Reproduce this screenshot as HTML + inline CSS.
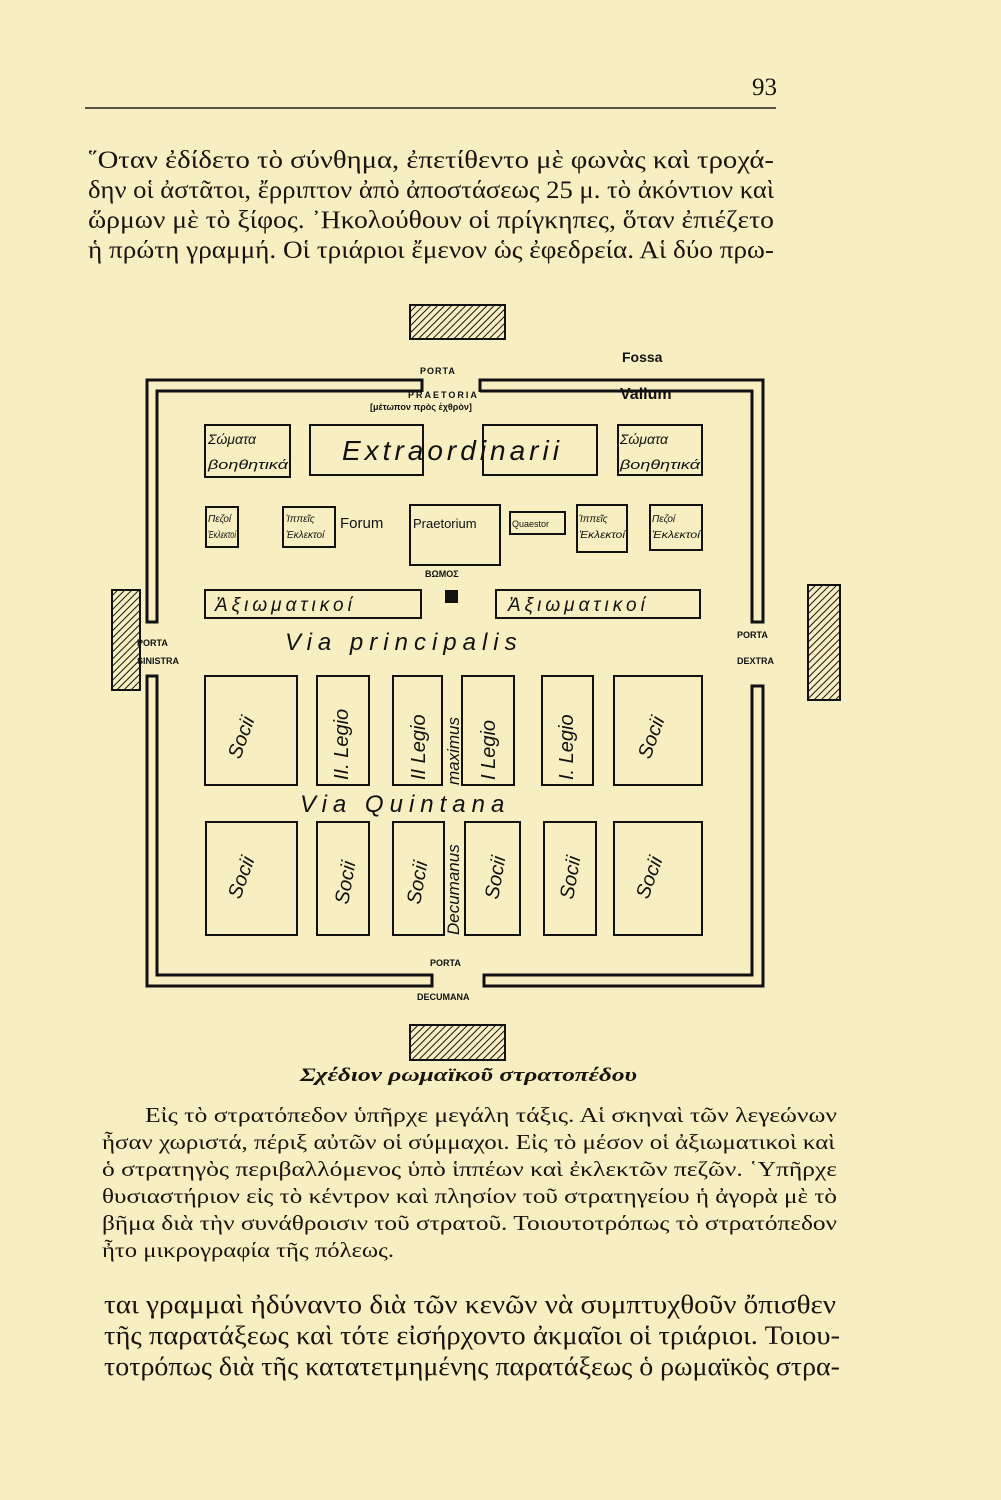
<!DOCTYPE html>
<html><head><meta charset="utf-8"><style>
html,body{margin:0;padding:0;background:#f7efc2;}
svg{display:block}
.t{font-family:"Liberation Serif","DejaVu Serif",serif;fill:#1a1410}
.h{font-family:"Liberation Sans",sans-serif;fill:#111;font-style:italic}
.s{font-family:"Liberation Sans",sans-serif;fill:#111;font-weight:bold}
</style></head><body>
<svg width="1001" height="1500" viewBox="0 0 1001 1500" xmlns="http://www.w3.org/2000/svg">
<defs><pattern id="hat" width="5" height="5" patternUnits="userSpaceOnUse" patternTransform="rotate(45)"><rect width="5" height="5" fill="#f7efc2"/><line x1="0" y1="0" x2="0" y2="5" stroke="#111" stroke-width="2"/></pattern></defs>
<rect width="1001" height="1500" fill="#f7efc2"/>
<text class="t" x="752" y="95" font-size="25">93</text>
<line x1="85" y1="108" x2="776" y2="108" stroke="#222" stroke-width="1.5"/>
<g class="t" font-size="25">
<text x="88" y="168" textLength="686" lengthAdjust="spacingAndGlyphs">῞Οταν ἐδίδετο τὸ σύνθημα, ἐπετίθεντο μὲ φωνὰς καὶ τροχά-</text>
<text x="88" y="198" textLength="686" lengthAdjust="spacingAndGlyphs">δην οἱ ἀστᾶτοι, ἔρριπτον ἀπὸ ἀποστάσεως 25 μ. τὸ ἀκόντιον καὶ</text>
<text x="88" y="228" textLength="686" lengthAdjust="spacingAndGlyphs">ὥρμων μὲ τὸ ξίφος. ᾿Ηκολούθουν οἱ πρίγκηπες, ὅταν ἐπιέζετο</text>
<text x="88" y="258" textLength="686" lengthAdjust="spacingAndGlyphs">ἡ πρώτη γραμμή. Οἱ τριάριοι ἔμενον ὡς ἐφεδρεία. Αἱ δύο πρω-</text>
</g>
<rect x="410" y="305" width="95" height="34" fill="url(#hat)" stroke="#111" stroke-width="2"/>
<rect x="112" y="590" width="28" height="100" fill="url(#hat)" stroke="#111" stroke-width="2"/>
<rect x="808" y="585" width="32" height="115" fill="url(#hat)" stroke="#111" stroke-width="2"/>
<rect x="410" y="1025" width="95" height="35" fill="url(#hat)" stroke="#111" stroke-width="2"/>
<g fill="none" stroke="#111" stroke-width="3">
<path d="M422,392 V380 H147 V622 H157 V391 H422"/>
<path d="M480,392 V380 H763 V622 H752 V391 H480"/>
<path d="M147,676 V986 H432 V975 H157 V676 Z"/>
<path d="M763,686 V986 H484 V975 H752 V686 Z"/>
</g>
<g class="s" font-size="9">
<text x="420" y="374" letter-spacing="1">PORTA</text>
<text x="408" y="398" letter-spacing="2">PRAETORIA</text>
<text x="137" y="646">PORTA</text>
<text x="137" y="664">SINISTRA</text>
<text x="737" y="638">PORTA</text>
<text x="737" y="664">DEXTRA</text>
<text x="430" y="966">PORTA</text>
<text x="417" y="1000">DECUMANA</text>
<text x="425" y="577">ΒΩΜΟΣ</text>
</g>
<text class="s" x="370" y="410" font-size="9">[μέτωπον πρὸς ἐχθρὸν]</text>
<text class="s" x="622" y="362" font-size="14">Fossa</text>
<text class="s" x="620" y="399" font-size="16">Vallum</text>
<g fill="none" stroke="#111" stroke-width="2">
<rect x="205" y="425" width="85" height="52"/>
<rect x="310" y="425" width="113" height="50"/>
<rect x="483" y="425" width="114" height="50"/>
<rect x="618" y="425" width="84" height="50"/>
<rect x="206" y="507" width="32" height="40"/>
<rect x="283" y="507" width="52" height="40"/>
<rect x="410" y="505" width="90" height="60"/>
<rect x="510" y="512" width="55" height="22"/>
<rect x="577" y="505" width="50" height="47"/>
<rect x="650" y="505" width="52" height="45"/>
<rect x="205" y="590" width="216" height="28"/>
<rect x="496" y="590" width="204" height="28"/>
<rect x="205" y="676" width="92" height="109"/>
<rect x="317" y="676" width="52" height="109"/>
<rect x="393" y="676" width="49" height="109"/>
<rect x="462" y="676" width="52" height="109"/>
<rect x="542" y="676" width="51" height="109"/>
<rect x="614" y="676" width="88" height="109"/>
<rect x="206" y="822" width="91" height="113"/>
<rect x="317" y="822" width="52" height="113"/>
<rect x="393" y="822" width="51" height="113"/>
<rect x="465" y="822" width="55" height="113"/>
<rect x="544" y="822" width="52" height="113"/>
<rect x="614" y="822" width="88" height="113"/>
</g>
<rect x="445" y="590" width="13" height="13" fill="#111"/>
<g class="h">
<text x="208" y="444" font-size="14">Σώματα</text>
<text x="208" y="469" font-size="13" textLength="80" lengthAdjust="spacingAndGlyphs">βοηθητικά</text>
<text x="620" y="444" font-size="14">Σώματα</text>
<text x="620" y="469" font-size="13" textLength="80" lengthAdjust="spacingAndGlyphs">βοηθητικά</text>
<text x="342" y="460" font-size="28" letter-spacing="4">Extraordinarii</text>
<text x="208" y="522" font-size="10">Πεζοί</text><text x="208" y="538" font-size="10" textLength="28" lengthAdjust="spacingAndGlyphs">Ἐκλεκτοί</text>
<text x="286" y="522" font-size="10">Ἱππεῖς</text><text x="286" y="538" font-size="10">Ἐκλεκτοί</text>
<text x="579" y="522" font-size="10">Ἱππεῖς</text><text x="579" y="538" font-size="10" textLength="46" lengthAdjust="spacingAndGlyphs">Ἐκλεκτοί</text>
<text x="652" y="522" font-size="10">Πεζοί</text><text x="652" y="538" font-size="10" textLength="48" lengthAdjust="spacingAndGlyphs">Ἐκλεκτοί</text>
<text x="340" y="528" font-size="15" font-style="normal">Forum</text>
<text x="413" y="528" font-size="13" font-style="normal">Praetorium</text>
<text x="512" y="527" font-size="9" font-style="normal">Quaestor</text>
<text x="215" y="611" font-size="19" letter-spacing="4">Ἀξιωματικοί</text>
<text x="508" y="611" font-size="19" letter-spacing="4">Ἀξιωματικοί</text>
<text x="285" y="650" font-size="24" letter-spacing="6">Via   principalis</text>
<text x="300" y="812" font-size="24" letter-spacing="6">Via  Quintana</text>
<g font-size="20">
<text transform="translate(240,760) rotate(-70)">Socii</text>
<text transform="translate(348,780) rotate(-90)">II. Legio</text>
<text transform="translate(425,780) rotate(-90)">II Legio</text>
<text transform="translate(495,780) rotate(-90)">I Legio</text>
<text transform="translate(573,780) rotate(-90)">I. Legio</text>
<text transform="translate(650,760) rotate(-70)">Socii</text>
<text transform="translate(240,900) rotate(-70)">Socii</text>
<text transform="translate(348,905) rotate(-80)">Socii</text>
<text transform="translate(420,905) rotate(-80)">Socii</text>
<text transform="translate(498,900) rotate(-80)">Socii</text>
<text transform="translate(573,900) rotate(-80)">Socii</text>
<text transform="translate(648,900) rotate(-70)">Socii</text>
</g>
<text transform="translate(459,785) rotate(-90)" font-size="17">maximus</text>
<text transform="translate(459,935) rotate(-90)" font-size="17">Decumanus</text>
</g>
<text class="t" x="300" y="1081" font-size="19" font-style="italic" font-weight="bold" textLength="337" lengthAdjust="spacingAndGlyphs">Σχέδιον ρωμαϊκοῦ στρατοπέδου</text>
<g class="t" font-size="21">
<text x="145" y="1122" textLength="692" lengthAdjust="spacingAndGlyphs">Εἰς τὸ στρατόπεδον ὑπῆρχε μεγάλη τάξις. Αἱ σκηναὶ τῶν λεγεώνων</text>
<text x="102" y="1149" textLength="733" lengthAdjust="spacingAndGlyphs">ἦσαν χωριστά, πέριξ αὐτῶν οἱ σύμμαχοι. Εἰς τὸ μέσον οἱ ἀξιωματικοὶ καὶ</text>
<text x="102" y="1176" textLength="735" lengthAdjust="spacingAndGlyphs">ὁ στρατηγὸς περιβαλλόμενος ὑπὸ ἱππέων καὶ ἐκλεκτῶν πεζῶν. ῾Υπῆρχε</text>
<text x="102" y="1203" textLength="735" lengthAdjust="spacingAndGlyphs">θυσιαστήριον εἰς τὸ κέντρον καὶ πλησίον τοῦ στρατηγείου ἡ ἀγορὰ μὲ τὸ</text>
<text x="102" y="1230" textLength="735" lengthAdjust="spacingAndGlyphs">βῆμα διὰ τὴν συνάθροισιν τοῦ στρατοῦ. Τοιουτοτρόπως τὸ στρατόπεδον</text>
<text x="102" y="1257" textLength="292" lengthAdjust="spacingAndGlyphs">ἦτο μικρογραφία τῆς πόλεως.</text>
</g>
<g class="t" font-size="26">
<text x="104" y="1313" textLength="732" lengthAdjust="spacingAndGlyphs">ται γραμμαὶ ἠδύναντο διὰ τῶν κενῶν νὰ συμπτυχθοῦν ὄπισθεν</text>
<text x="104" y="1344" textLength="736" lengthAdjust="spacingAndGlyphs">τῆς παρατάξεως καὶ τότε εἰσήρχοντο ἀκμαῖοι οἱ τριάριοι. Τοιου-</text>
<text x="104" y="1375" textLength="736" lengthAdjust="spacingAndGlyphs">τοτρόπως διὰ τῆς κατατετμημένης παρατάξεως ὁ ρωμαϊκὸς στρα-</text>
</g>
</svg>
</body></html>
